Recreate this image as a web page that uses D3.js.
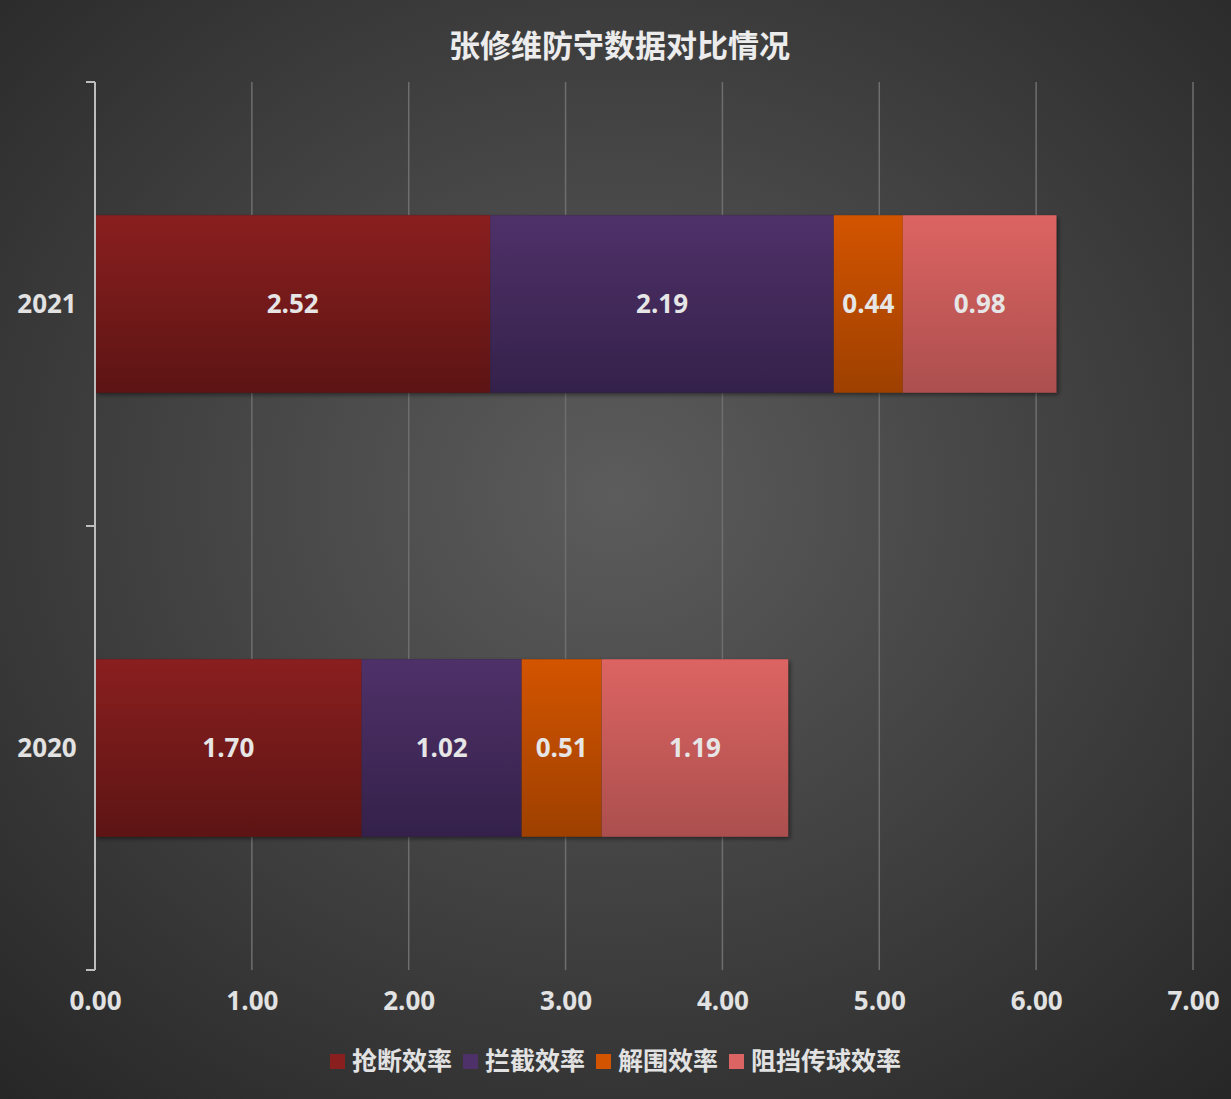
<!DOCTYPE html>
<html>
<head>
<meta charset="utf-8">
<script src="https://cdn.jsdelivr.net/npm/d3@7"></script>
<style>
  html, body { margin: 0; padding: 0; background: #333; }
  svg { display: block; font-family: "Open Sans", "Noto Sans CJK SC", sans-serif; }
</style>
</head>
<body>
<svg id="chart" width="1231" height="1099"></svg>
<script>
// data
const years = ['2021', '2020'];
const seriesNames = ['抢断效率', '拦截效率', '解围效率', '阻挡传球效率'];
const values2021 = [2.52, 2.19, 0.44, 0.98];
const values2020 = [1.70, 1.02, 0.51, 1.19];
const xTicks = [0, 1, 2, 3, 4, 5, 6, 7];

const colorsTop = ['#8a1f1f', '#4f3169', '#d35400', '#dc6462'];
const colorsBottom = ['#5d1414', '#34214a', '#9e4000', '#ab4f4e'];

const width = 1231;
const height = 1099;
const margin = { left: 95, right: 38, top: 82, bottom: 129 };

const rows = [values2021, values2020].map((vals, i) => {
  const row = { year: years[i] };
  seriesNames.forEach((s, j) => { row[s] = vals[j]; });
  return row;
});

const stacked = d3.stack().keys(seriesNames)(rows);

const svg = d3.select('#chart');
const defs = svg.append('defs');

// background
const bg = defs.append('radialGradient')
  .attr('id', 'bg')
  .attr('cx', '50%').attr('cy', '45%').attr('r', '75%');
bg.append('stop').attr('offset', '0%').attr('stop-color', '#5c5c5c');
bg.append('stop').attr('offset', '100%').attr('stop-color', '#262626');

svg.append('rect')
  .attr('width', width)
  .attr('height', height)
  .attr('fill', 'url(#bg)');

// bar gradients
seriesNames.forEach((s, i) => {
  const g = defs.append('linearGradient')
    .attr('id', `grad${i}`)
    .attr('x1', 0).attr('y1', 0).attr('x2', 0).attr('y2', 1);
  g.append('stop').attr('offset', '0%').attr('stop-color', colorsTop[i]);
  g.append('stop').attr('offset', '100%').attr('stop-color', colorsBottom[i]);
});

const shadow = defs.append('filter').attr('id', 'shadow')
  .attr('x', '-5%').attr('y', '-5%').attr('width', '115%').attr('height', '120%');
shadow.append('feDropShadow')
  .attr('dx', 2).attr('dy', 2).attr('stdDeviation', 2)
  .attr('flood-color', '#000').attr('flood-opacity', 0.45);

const xScale = d3.scaleLinear()
  .domain([0, 7])
  .range([margin.left, width - margin.right]);

const yScale = d3.scaleBand()
  .domain(years)
  .range([margin.top, height - margin.bottom])
  .paddingInner(0.6)
  .paddingOuter(0.3);

// title
svg.append('text')
  .attr('x', width / 2 + 4)
  .attr('y', 57)
  .attr('text-anchor', 'middle')
  .attr('font-size', 31)
  .attr('font-weight', 'bold')
  .attr('fill', '#ececec')
  .text('张修维防守数据对比情况');

// gridlines
svg.append('g')
  .selectAll('line')
  .data(xTicks.slice(1))
  .enter()
  .append('line')
  .attr('x1', d => xScale(d))
  .attr('x2', d => xScale(d))
  .attr('y1', margin.top)
  .attr('y2', height - margin.bottom)
  .attr('stroke', '#6e6e6e')
  .attr('stroke-width', 1.5);

// x axis (labels only)
const xAxis = d3.axisBottom(xScale)
  .tickValues(xTicks)
  .tickFormat(d3.format('.2f'))
  .tickSize(0)
  .tickPadding(22);

svg.append('g')
  .attr('transform', `translate(0,${height - margin.bottom})`)
  .call(xAxis)
  .call(g => g.select('.domain').remove())
  .call(g => g.selectAll('text')
    .attr('font-size', 26)
    .attr('font-weight', 'bold')
    .attr('fill', '#e2e2e2')
    .attr('font-family', '"Open Sans", sans-serif'));

// bars
const barsG = svg.append('g');
barsG.selectAll('g.shadow')
  .data(rows)
  .enter()
  .append('rect')
  .attr('x', xScale(0))
  .attr('y', d => yScale(d.year))
  .attr('width', d => xScale(d3.sum(seriesNames, s => d[s])) - xScale(0))
  .attr('height', yScale.bandwidth())
  .attr('fill', '#222')
  .attr('filter', 'url(#shadow)');

const layer = barsG.selectAll('g.layer')
  .data(stacked)
  .enter()
  .append('g')
  .attr('class', 'layer')
  .attr('fill', (d, i) => `url(#grad${i})`);

layer.selectAll('rect')
  .data(d => d)
  .enter()
  .append('rect')
  .attr('x', d => xScale(d[0]))
  .attr('y', d => yScale(d.data.year))
  .attr('width', d => xScale(d[1]) - xScale(d[0]))
  .attr('height', yScale.bandwidth());

// value labels
stacked.forEach(series => {
  svg.append('g')
    .selectAll('text')
    .data(series)
    .enter()
    .append('text')
    .attr('x', d => (xScale(d[0]) + xScale(d[1])) / 2)
    .attr('y', d => yScale(d.data.year) + yScale.bandwidth() / 2)
    .attr('dy', '0.35em')
    .attr('text-anchor', 'middle')
    .attr('font-size', 26)
    .attr('font-weight', 'bold')
    .attr('fill', '#e6e6e6')
    .text(d => d3.format('.2f')(d[1] - d[0]));
});

// y axis
const yLine = d3.scaleLinear()
  .domain([0, 2])
  .range([margin.top, height - margin.bottom]);

const yAxisG = svg.append('g');
yAxisG.append('line')
  .attr('x1', margin.left).attr('x2', margin.left)
  .attr('y1', margin.top).attr('y2', height - margin.bottom)
  .attr('stroke', '#bdbdbd').attr('stroke-width', 2);
yAxisG.selectAll('line.tick')
  .data([0, 1, 2])
  .enter()
  .append('line')
  .attr('class', 'tick')
  .attr('x1', margin.left - 9).attr('x2', margin.left)
  .attr('y1', d => yLine(d)).attr('y2', d => yLine(d))
  .attr('stroke', '#bdbdbd').attr('stroke-width', 2);

yAxisG.selectAll('text')
  .data(years)
  .enter()
  .append('text')
  .attr('x', 47)
  .attr('y', d => yScale(d) + yScale.bandwidth() / 2)
  .attr('dy', '0.35em')
  .attr('text-anchor', 'middle')
  .attr('font-size', 26)
  .attr('font-weight', 'bold')
  .attr('fill', '#e2e2e2')
  .text(d => d);

// legend
const legend = svg.append('g').attr('transform', 'translate(0,1061)');
const legendX = [330, 463, 596, 729];
seriesNames.forEach((s, i) => {
  legend.append('rect')
    .attr('x', legendX[i])
    .attr('y', -7)
    .attr('width', 15)
    .attr('height', 15)
    .attr('fill', colorsTop[i]);
  legend.append('text')
    .attr('x', legendX[i] + 22)
    .attr('y', 0)
    .attr('dy', '0.35em')
    .attr('font-size', 25)
    .attr('font-weight', 'bold')
    .attr('fill', '#e2e2e2')
    .attr('font-family', '"Noto Sans CJK SC", sans-serif')
    .text(s);
});
</script>
</body>
</html>
